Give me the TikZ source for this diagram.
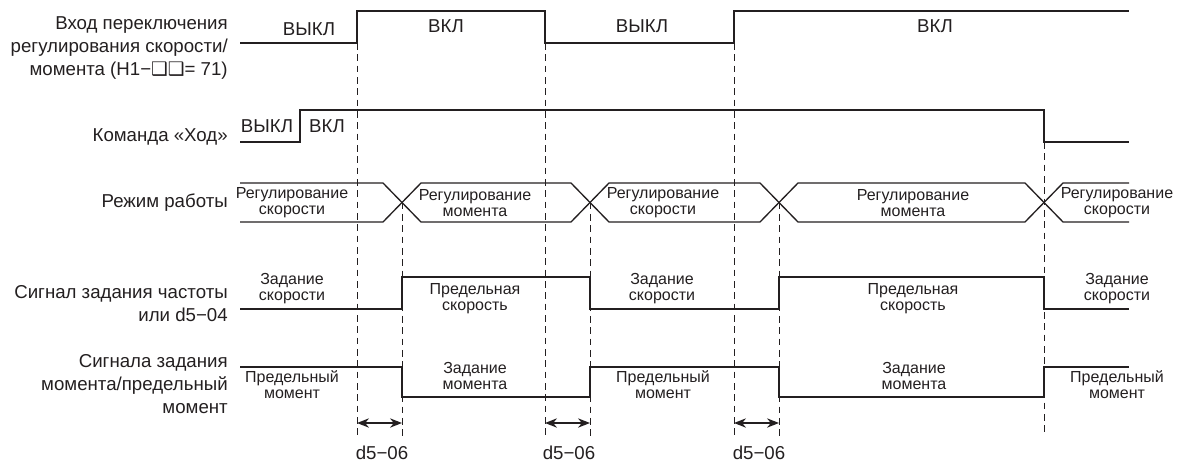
\documentclass[tikz,border=0pt]{standalone}
\usepackage{fontspec}
\setmainfont{Liberation Sans}
\newfontfamily\symfont{DejaVu Sans}
\usetikzlibrary{arrows.meta}
\definecolor{ink}{HTML}{231F20}

\begin{document}
\begin{tikzpicture}[
  x=0.75pt, y=-0.75pt,
  sig/.style={line width=1pt, draw=ink, line join=miter},
  guide/.style={line width=0.6pt, draw=ink, dash pattern=on 5pt off 3.5pt},
  arr/.style={{Stealth[length=9pt,width=7pt]}-{Stealth[length=9pt,width=7pt]}, line width=1pt, draw=ink},
  rowlbl/.style={font=\fontsize{14}{17}\selectfont, align=right, anchor=east, text=ink, inner sep=0pt},
  state/.style={font=\fontsize{14}{16}\selectfont, text=ink, inner sep=0pt},
  tag/.style={font=\fontsize{12}{12}\selectfont, align=center, text=ink, inner sep=0pt},
  dlbl/.style={font=\fontsize{14}{16}\selectfont, text=ink, inner sep=0pt}]
\useasboundingbox (0,0) rectangle (1177,464);

% row names
\node[rowlbl] (nsw) at (228,48) {Вход переключения\\регулирования скорости/\\момента (H1−{\symfont ❑❑}= 71)};
\node[rowlbl] (nrun) at (228,136.5) {Команда «Ход»};
\node[rowlbl] (nmode) at (228,203) {Режим работы};
\node[rowlbl] (nfreq) at (228,303.5) {Сигнал задания частоты\\или d5−04};
\node[rowlbl] (ntrq) at (228,384) {Сигнала задания\\момента/предельный\\момент};

% guide lines
\draw[guide] (357,43) -- (357,437);
\draw[guide] (545,43) -- (545,437);
\draw[guide] (734,43) -- (734,437);
\draw[guide] (402,202.5) -- (402,437);
\draw[guide] (590,202.5) -- (590,437);
\draw[guide] (779,202.5) -- (779,437);
\draw[guide] (1044,142) -- (1044,435);

% switch input
\draw[sig] (240,43) -- (357,43) -- (357,11) -- (545,11) -- (545,43) -- (734,43) -- (734,11) -- (1129,11);
\node[state] (sw1) at (309,29) {ВЫКЛ};
\node[state] (sw2) at (446,26) {ВКЛ};
\node[state] (sw3) at (642,26) {ВЫКЛ};
\node[state] (sw4) at (935,26) {ВКЛ};

% run command
\draw[sig] (240,142) -- (300,142) -- (300,110) -- (1044,110) -- (1044,142) -- (1129,142);
\node[state] (run1) at (267,126) {ВЫКЛ};
\node[state] (run2) at (327,126) {ВКЛ};

% operation mode
\draw[sig] (240,183) -- (383,183) -- (421,222) -- (571,222) -- (609,183) -- (760,183) -- (798,222) -- (1025,222) -- (1063,183) -- (1129,183);
\draw[sig] (240,222) -- (383,222) -- (421,183) -- (571,183) -- (609,222) -- (760,222) -- (798,183) -- (1025,183) -- (1063,222) -- (1129,222);
\node[tag] (m1) at (292,203) {Регулирование\\скорости};
\node[tag] (m2) at (475,203) {Регулирование\\момента};
\node[tag] (m3) at (663,203) {Регулирование\\скорости};
\node[tag] (m4) at (913,203) {Регулирование\\момента};
\node[tag] (m5) at (1117,203) {Регулирование\\скорости};

% frequency reference
\draw[sig] (240,309) -- (402,309) -- (402,277) -- (590,277) -- (590,309) -- (779,309) -- (779,277) -- (1044,277) -- (1044,309) -- (1129,309);
\node[tag] (f1) at (292,289) {Задание\\скорости};
\node[tag] (f2) at (475,298.5) {Предельная\\скорость};
\node[tag] (f3) at (662,289) {Задание\\скорости};
\node[tag] (f4) at (913,298.5) {Предельная\\скорость};
\node[tag] (f5) at (1117,289) {Задание\\скорости};

% torque reference
\draw[sig] (240,367) -- (402,367) -- (402,397) -- (590,397) -- (590,367) -- (779,367) -- (779,397) -- (1044,397) -- (1044,367) -- (1129,367);
\node[tag] (t1) at (292,385) {Предельный\\момент};
\node[tag] (t2) at (475,375.5) {Задание\\момента};
\node[tag] (t3) at (663,385) {Предельный\\момент};
\node[tag] (t4) at (914,375.5) {Задание\\момента};
\node[tag] (t5) at (1117,385) {Предельный\\момент};

% d5-06 delays
\coordinate (a1) at (357,423);
\coordinate (b1) at (402,423);
\coordinate (a2) at (545,423);
\coordinate (b2) at (590,423);
\coordinate (a3) at (734,423);
\coordinate (b3) at (779,423);
\draw[arr] (a1) -- (b1);
\draw[arr] (a2) -- (b2);
\draw[arr] (a3) -- (b3);
\node[dlbl] (d1) at (382,453) {d5−06};
\node[dlbl] (d2) at (569,453) {d5−06};
\node[dlbl] (d3) at (759,453) {d5−06};
\end{tikzpicture}
\end{document}
